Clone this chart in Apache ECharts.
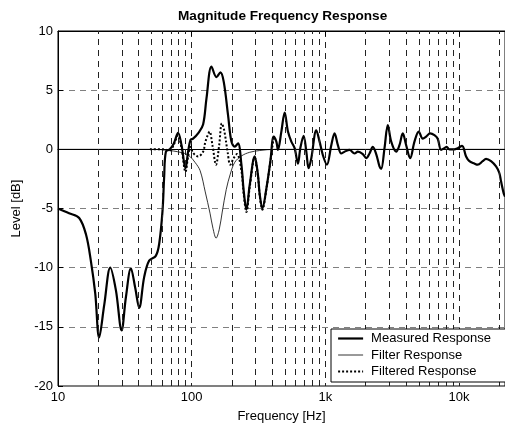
<!DOCTYPE html>
<html>
<head>
<meta charset="utf-8">
<script src="https://cdn.jsdelivr.net/npm/echarts@6/dist/echarts.min.js"></script>
<style>
  html, body { margin: 0; padding: 0; background: #fff; }
  #chart { width: 505px; height: 428px; }
</style>
</head>
<body>
<div id="chart"></div>
<script>
// Measured loudspeaker response (Hz, dB)
const measuredFreq = [10, 12.1, 14.4, 16.2, 17.6, 19.0, 20.3, 22.2, 24.6, 27.1,
  29.9, 32.2, 35.1, 37.8, 40.5, 44.1, 48.1, 53.9, 57.1, 60.5,
  62.2, 64.1, 68.6, 73.5, 79.1, 83.9, 89.9, 94.0, 98.0, 102.4,
  111.6, 121.7, 129.0, 140.6, 153.2, 164.1, 173.7, 187.0, 198.3, 209.9,
  222.1, 235.5, 244.9, 256.6, 271.6, 296.0, 313.3, 322.6, 337.9, 362.0,
  387.7, 410.3, 429.8, 441.7, 468.4, 495.8, 524.7, 556.3, 588.8, 623.2,
  649.5, 687.5, 720.1, 749.1, 784.7, 855.1, 905.0, 957.9, 1026, 1107,
  1171, 1240, 1314, 1391, 1516, 1652, 1749, 1906, 2020, 2138,
  2263, 2399, 2540, 2615, 2768, 2930, 3107, 3384, 3582, 3792,
  4020, 4307, 4637, 4993, 5348, 5669, 6073, 6540, 6920, 7337,
  7766, 8081, 8464, 9224, 9761, 10530, 11280, 11940, 13010, 13770,
  15010, 15910, 17340, 18900, 20000, 20590, 21540, 22050];
const measuredLevel = [-5.0, -5.4, -5.8, -7.2, -9.4, -12.2, -15.9, -13.1, -10.0, -11.9,
  -15.3, -12.5, -10.05, -11.7, -13.4, -10.8, -9.4, -9.0, -8.0, -5.2,
  -2.4, -0.2, 0.0, 0.5, 1.4, 0.36, -1.6, -0.2, 0.8, 0.9,
  1.35, 2.1, 4.3, 7.0, 6.1, 6.5, 5.7, 2.9, 0.65, 0.23,
  0.5, -1.3, -3.5, -5.1, -3.0, -0.6, -2.2, -3.8, -5.0, -3.3,
  -1.0, 1.07, 0.65, -0.05, 1.5, 3.1, 1.5, 0.65, 0.1, -1.2,
  0.1, 1.15, -0.2, -1.6, -0.75, 1.6, 0.65, -0.5, -1.3, 0.35,
  1.35, 0.36, -0.35, -0.2, -0.05, -0.35, -0.2, -0.4, -0.75, -0.35,
  0.2, -0.4, -1.45, -1.65, 0.1, 2.05, 0.65, -0.2, 0.35, 1.35,
  0.35, -0.75, 0.65, 1.5, 0.9, 1.07, 1.35, 1.2, 0.9, -0.05,
  0.1, 0.2, 0.0, 0.0, 0.1, 0.3, -0.6, -1.0, -1.2, -1.3,
  -1.0, -0.8, -1.0, -1.45, -2.0, -2.7, -3.7, -4.0];

// Correction filter (notch around 150 Hz)
const filterFreq = [10, 50, 68.6, 88.8, 96.9, 105.9, 115.6, 126.3, 137.1, 144.4,
  152.2, 160.5, 169.2, 181.3, 194.3, 209.9, 236.4, 271.6, 322.6, 418, 22050];
const filterLevel = [0, 0, -0.1, -0.35, -0.6, -1.1, -1.8, -3.6, -5.4, -6.7,
  -7.5, -6.8, -5.3, -3.4, -2.1, -1.1, -0.55, -0.25, -0.1, 0, 0];

// Response after filtering (where it departs from the measured curve)
const filteredFreq = [48.7, 62.2, 68.6, 73.5, 79.1, 83.9, 89.9, 94.0, 98.0, 102.4,
  111.6, 121.7, 126.3, 131.8, 136.0, 143.0, 152.0, 160.5, 168.0, 175.0,
  185.5, 194.3, 206.0, 218.0, 235.5, 244.9, 256.6, 271.6, 296.0, 313.3,
  322.6, 337.9, 362.0, 387.7, 410.3];
const filteredLevel = [0, 0, -0.1, 0.4, 1.2, 0.1, -1.9, -0.6, 0.2, -0.3,
  -0.6, -0.2, 0.6, 1.2, 1.5, 0.35, -1.3, 0.35, 2.2, 1.6,
  -0.2, -1.3, -0.75, -0.4, -1.8, -3.8, -5.3, -3.2, -0.7, -2.3,
  -3.9, -5.1, -3.35, -1.05, 1.05];

// Intermediate log-grid frequencies
const minorGridFreq = [20, 30, 40, 50, 60, 70, 80, 90,
  200, 300, 400, 500, 600, 700, 800, 900,
  2000, 3000, 4000, 5000, 6000, 7000, 8000, 9000, 20000];

const seriesNames = ['Measured Response', 'Filter Response', 'Filtered Response'];
const seriesWidths = [2.2, 0.8, 2];
const freqMin = 10, freqMax = 22050;

const zip = (xs, ys) => xs.map((x, i) => [x, ys[i]]);
const FONT = 'Liberation Sans, Arial, Helvetica, sans-serif';

const freqLabel = v => {
  const r = Math.round(v);
  return r >= 1000 ? (r / 1000) + 'k' : String(r);
};

const chart = echarts.init(document.getElementById('chart'), null, { renderer: 'canvas' });
chart.setOption({
  animation: false,
  backgroundColor: '#fff',
  title: {
    text: 'Magnitude Frequency Response',
    left: 178, top: 9, padding: 0,
    textStyle: { fontFamily: FONT, fontSize: 13.6, fontWeight: 'bold', color: '#000' }
  },
  grid: {
    left: 58, top: 31, right: -1, bottom: 39,
    show: true, borderColor: '#000', borderWidth: 1, backgroundColor: 'transparent'
  },
  legend: {
    data: seriesNames.map((name, i) => ({
      name: name,
      lineStyle: { width: seriesWidths[i] }
    })),
    orient: 'vertical',
    left: 331, top: 329,
    padding: [3, 16, 4, 6],
    itemWidth: 25, itemHeight: 14, itemGap: 3.5,
    itemStyle: { opacity: 0 },
    backgroundColor: '#fff', borderColor: '#000', borderWidth: 1, borderRadius: 0,
    textStyle: { fontFamily: FONT, fontSize: 13, color: '#000', padding: [0, 0, 0, 3] },
    z: 10
  },
  xAxis: [{
    type: 'log', logBase: 10, min: freqMin, max: freqMax,
    name: 'Frequency [Hz]', nameLocation: 'middle', nameGap: 24,
    nameTextStyle: { fontFamily: FONT, fontSize: 13, color: '#000' },
    axisLine: { show: true, lineStyle: { color: '#000', width: 1 } },
    axisTick: { show: true, inside: true, length: 5, lineStyle: { color: '#000' } },
    axisLabel: {
      fontFamily: FONT, fontSize: 13, color: '#000', margin: 5,
      showMaxLabel: false, formatter: freqLabel
    },
    splitLine: { show: true, lineStyle: { color: '#222', width: 1, type: [6, 5] } }
  }, {
    type: 'log', logBase: 10, min: freqMin, max: freqMax, position: 'top',
    axisLine: { show: true, lineStyle: { color: '#000', width: 1 } },
    axisTick: { show: true, inside: true, length: 5, lineStyle: { color: '#000' } },
    axisLabel: { show: false },
    splitLine: { show: false }
  }],
  yAxis: [{
    type: 'value', min: -20, max: 10, interval: 5,
    name: 'Level [dB]', nameLocation: 'middle', nameGap: 34, nameRotate: 90,
    nameTextStyle: { fontFamily: FONT, fontSize: 13, color: '#000' },
    axisLine: { show: true, lineStyle: { color: '#000', width: 1 } },
    axisTick: { show: true, inside: true, length: 5, lineStyle: { color: '#000' } },
    axisLabel: { fontFamily: FONT, fontSize: 13, color: '#000', margin: 5 },
    splitLine: { show: true, lineStyle: { color: '#808080', width: 1, type: [6, 5] } }
  }],
  series: [
    {
      // carries the intermediate vertical grid lines
      name: 'grid', type: 'line', data: [], silent: true, z: 1,
      markLine: {
        silent: true, symbol: 'none', label: { show: false },
        animation: false,
        lineStyle: { color: '#222', width: 1, type: [6, 5] },
        data: minorGridFreq.map(f => ({ xAxis: f }))
      }
    },
    {
      name: seriesNames[0], type: 'line', data: zip(measuredFreq, measuredLevel),
      showSymbol: false, symbol: 'none', smooth: 0.35, z: 3,
      lineStyle: { color: '#000', width: seriesWidths[0] }, itemStyle: { color: '#000' }
    },
    {
      name: seriesNames[1], type: 'line', data: zip(filterFreq, filterLevel),
      showSymbol: false, symbol: 'none', smooth: 0.35, z: 4,
      lineStyle: { color: '#000', width: seriesWidths[1] }, itemStyle: { color: '#000' }
    },
    {
      name: seriesNames[2], type: 'line', data: zip(filteredFreq, filteredLevel),
      showSymbol: false, symbol: 'none', smooth: 0.35, z: 5,
      lineStyle: { color: '#000', width: seriesWidths[2], type: [2, 2] }, itemStyle: { color: '#000' }
    }
  ]
});
</script>
</body>
</html>
